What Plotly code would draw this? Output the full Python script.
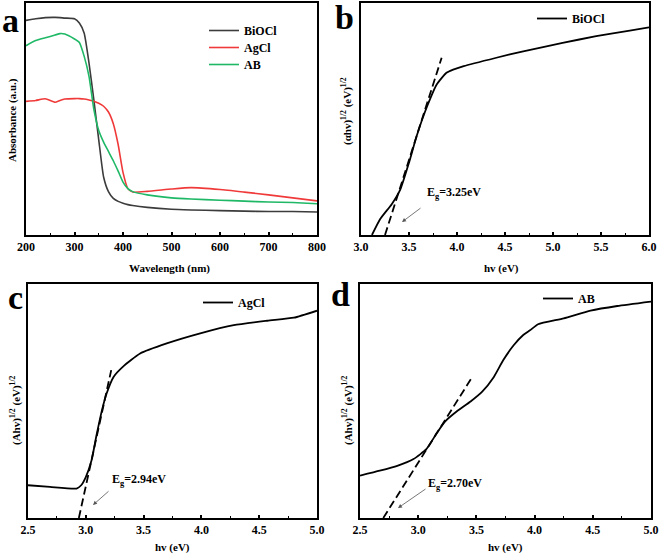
import plotly.graph_objects as go

# ---------------- data ----------------
wavelength = [200, 220, 240, 260, 270, 280, 300, 310, 320, 330, 340, 350, 360, 370,
              380, 390, 400, 410, 420, 450, 500, 540, 600, 650, 700, 750, 800]
abs_biocl = [0.925, 0.932, 0.937, 0.938, 0.937, 0.935, 0.932, 0.914, 0.870, 0.740, 0.580, 0.410, 0.250, 0.187,
             0.158, 0.145, 0.137, 0.131, 0.127, 0.119, 0.111, 0.108, 0.105, 0.103, 0.101, 0.101, 0.099]
abs_agcl = [0.576, 0.580, 0.587, 0.572, 0.580, 0.586, 0.588, 0.588, 0.586, 0.582, 0.577, 0.568, 0.555, 0.530,
            0.480, 0.390, 0.270, 0.200, 0.185, 0.188, 0.198, 0.204, 0.196, 0.185, 0.173, 0.160, 0.147]
abs_ab = [0.816, 0.838, 0.850, 0.862, 0.868, 0.866, 0.845, 0.830, 0.770, 0.683, 0.540, 0.450, 0.400, 0.360,
          0.320, 0.275, 0.228, 0.200, 0.187, 0.173, 0.160, 0.155, 0.150, 0.146, 0.142, 0.140, 0.135]

ev_b = [3.114, 3.2, 3.32, 3.41, 3.5, 3.58, 3.69, 3.79, 3.89, 3.96, 4.07, 4.41, 4.69, 5.1, 5.45, 5.8, 6.0]
tauc_b = [0.0, 0.069, 0.133, 0.197, 0.312, 0.427, 0.556, 0.650, 0.699, 0.713, 0.728, 0.764, 0.792, 0.828,
          0.857, 0.881, 0.895]
fit_b_x = [3.25, 3.84]
fit_b_y = [0.0, 0.764]

ev_c = [2.5, 2.69, 2.92, 2.96, 3.0, 3.05, 3.09, 3.14, 3.18, 3.24, 3.32, 3.47, 3.7, 3.99, 4.28, 4.57, 4.8, 5.0]
tauc_c = [0.140, 0.133, 0.126, 0.140, 0.175, 0.247, 0.347, 0.461, 0.532, 0.603, 0.646, 0.703, 0.746,
          0.789, 0.824, 0.843, 0.856, 0.886]
fit_c_x = [2.94, 3.22]
fit_c_y = [0.0, 0.632]

ev_d = [2.5, 2.67, 2.82, 2.96, 3.07, 3.16, 3.23, 3.33, 3.45, 3.55, 3.65, 3.73, 3.82, 3.9, 3.96, 4.03,
        4.25, 4.48, 4.71, 5.0]
tauc_d = [0.181, 0.202, 0.223, 0.252, 0.294, 0.363, 0.412, 0.455, 0.498, 0.540, 0.603, 0.674, 0.738,
          0.781, 0.802, 0.828, 0.853, 0.886, 0.906, 0.925]
fit_d_x = [2.70, 3.47]
fit_d_y = [0.0, 0.607]

eg_labels = ["E<sub>g</sub>=3.25eV", "E<sub>g</sub>=2.94eV", "E<sub>g</sub>=2.70eV"]

# ---------------- layout helpers ----------------
W, H = 661, 559
FONT = "Liberation Serif"
BLACK = "#000000"
DASH = "8px,4px"
SM = 0.5


def px_x(p):
    return p / W


def px_y(p):
    return 1 - p / H


fig = go.Figure()

# panel a
fig.add_trace(go.Scatter(x=wavelength, y=abs_biocl, mode="lines", name="BiOCl",
                         line=dict(color="#3c3c3c", width=1.6, shape="spline", smoothing=SM),
                         xaxis="x", yaxis="y", legend="legend"))
fig.add_trace(go.Scatter(x=wavelength, y=abs_agcl, mode="lines", name="AgCl",
                         line=dict(color="#f03a3a", width=1.6, shape="spline", smoothing=SM),
                         xaxis="x", yaxis="y", legend="legend5"))
fig.add_trace(go.Scatter(x=wavelength, y=abs_ab, mode="lines", name="AB",
                         line=dict(color="#1fb866", width=1.6, shape="spline", smoothing=SM),
                         xaxis="x", yaxis="y", legend="legend6"))

# panel b
fig.add_trace(go.Scatter(x=ev_b, y=tauc_b, mode="lines", name="BiOCl",
                         line=dict(color=BLACK, width=1.8, shape="spline", smoothing=SM),
                         xaxis="x2", yaxis="y2", legend="legend2"))
fig.add_trace(go.Scatter(x=fit_b_x, y=fit_b_y, mode="lines", showlegend=False,
                         line=dict(color=BLACK, width=1.8, dash=DASH), xaxis="x2", yaxis="y2"))

# panel c
fig.add_trace(go.Scatter(x=ev_c, y=tauc_c, mode="lines", name="AgCl",
                         line=dict(color=BLACK, width=1.8, shape="spline", smoothing=SM),
                         xaxis="x3", yaxis="y3", legend="legend3"))
fig.add_trace(go.Scatter(x=fit_c_x, y=fit_c_y, mode="lines", showlegend=False,
                         line=dict(color=BLACK, width=1.8, dash=DASH), xaxis="x3", yaxis="y3"))

# panel d
fig.add_trace(go.Scatter(x=ev_d, y=tauc_d, mode="lines", name="AB",
                         line=dict(color=BLACK, width=1.8, shape="spline", smoothing=SM),
                         xaxis="x4", yaxis="y4", legend="legend4"))
fig.add_trace(go.Scatter(x=fit_d_x, y=fit_d_y, mode="lines", showlegend=False,
                         line=dict(color=BLACK, width=1.8, dash=DASH), xaxis="x4", yaxis="y4"))

tickfont = dict(family=FONT, size=12, color=BLACK, weight="bold")


def xaxis(domain, rng, dtick, minor, anchor, fmt):
    return dict(domain=domain, range=rng, dtick=dtick, tick0=rng[0], anchor=anchor,
                showline=True, linecolor=BLACK, linewidth=2, mirror=True,
                ticks="inside", ticklen=3, tickwidth=1.5, tickcolor=BLACK,
                minor=dict(ticks="inside", ticklen=2, dtick=minor, tickcolor=BLACK, tickwidth=1),
                showgrid=False, zeroline=False, tickfont=tickfont, tickformat=fmt,
                automargin=False)


def yaxis(domain, anchor):
    return dict(domain=domain, range=[0, 1], anchor=anchor,
                showline=True, linecolor=BLACK, linewidth=2, mirror=True,
                ticks="", showticklabels=False, showgrid=False, zeroline=False,
                automargin=False)


xa = [px_x(26), px_x(317)]
xb = [px_x(361), px_x(649)]
xc = [px_x(28), px_x(317)]
xd = [px_x(360), px_x(651)]
ytop = [px_y(235), px_y(3)]
ybot = [px_y(518), px_y(284)]

leg_common = dict(bgcolor="rgba(0,0,0,0)", borderwidth=0, xanchor="left", yanchor="top",
                  font=dict(family=FONT, size=12, color=BLACK, weight="bold"),
                  itemwidth=30, tracegroupgap=0)

fig.update_layout(
    width=W, height=H,
    margin=dict(l=0, r=0, t=0, b=0, autoexpand=False),
    paper_bgcolor="white", plot_bgcolor="white",
    font=dict(family=FONT, color=BLACK),
    xaxis=xaxis(xa, [200, 800], 100, 50, "y", "d"),
    yaxis=yaxis(ytop, "x"),
    xaxis2=xaxis(xb, [3.0, 6.0], 0.5, 0.25, "y2", ".1f"),
    yaxis2=yaxis(ytop, "x2"),
    xaxis3=xaxis(xc, [2.5, 5.0], 0.5, 0.25, "y3", ".1f"),
    yaxis3=yaxis(ybot, "x3"),
    xaxis4=xaxis(xd, [2.5, 5.0], 0.5, 0.25, "y4", ".1f"),
    yaxis4=yaxis(ybot, "x4"),
    legend=dict(x=px_x(204), y=px_y(16), **leg_common),
    legend5=dict(x=px_x(204), y=px_y(33), **leg_common),
    legend6=dict(x=px_x(204), y=px_y(50), **leg_common),
    legend2=dict(x=px_x(532), y=px_y(4), **leg_common),
    legend3=dict(x=px_x(198), y=px_y(288), **leg_common),
    legend4=dict(x=px_x(538), y=px_y(284), **leg_common),
    showlegend=True,
)

ann = []
C = dict(xref="paper", yref="paper", xanchor="center", yanchor="middle", showarrow=False)
lab = dict(family=FONT, size=11, color=BLACK, weight="bold")
# axis titles
for t, cx, cy in [("Wavelength (nm)", 169, 268), ("hv (eV)", 501, 268),
                  ("hv (eV)", 172, 547), ("hv (eV)", 505, 547)]:
    ann.append(dict(text=t, x=px_x(cx), y=px_y(cy), font=lab, **C))
for t, cx, cy in [("Absorbance (a.u.)", 13, 120),
                  ("(αhv)<sup>1/2</sup> (eV)<sup>1/2</sup>", 347, 111),
                  ("(Ahv)<sup>1/2</sup> (eV)<sup>1/2</sup>", 15, 410),
                  ("(Ahv)<sup>1/2</sup> (eV)<sup>1/2</sup>", 347, 410)]:
    ann.append(dict(text=t, x=px_x(cx), y=px_y(cy), textangle=-90, font=lab, **C))
# panel letters
big = dict(family=FONT, size=34, color=BLACK, weight="bold")
for t, cx, cy in [("a", 10, 20), ("b", 344, 18), ("c", 15, 297), ("d", 340, 294)]:
    ann.append(dict(text=t, x=px_x(cx), y=px_y(cy), font=big, **C))
# Eg labels
eg_font = dict(family=FONT, size=12, color=BLACK, weight="bold")
for t, cx, cy in zip(eg_labels, [454, 139, 455], [193, 480, 484]):
    ann.append(dict(text=t, x=px_x(cx), y=px_y(cy), font=eg_font, **C))
# arrows
for hx, hy, tx, ty in [(402, 222, 422, 207), (93, 505, 110, 490), (398, 508, 427, 488)]:
    ann.append(dict(text="", x=px_x(hx), y=px_y(hy), xref="paper", yref="paper",
                    ax=tx - hx, ay=ty - hy, showarrow=True, arrowhead=2, arrowsize=1,
                    arrowwidth=0.8, arrowcolor="#555555"))
fig.update_layout(annotations=ann)

fig.write_html("out.html", config={"displayModeBar": False},
               post_script="document.body.style.margin='0';")
